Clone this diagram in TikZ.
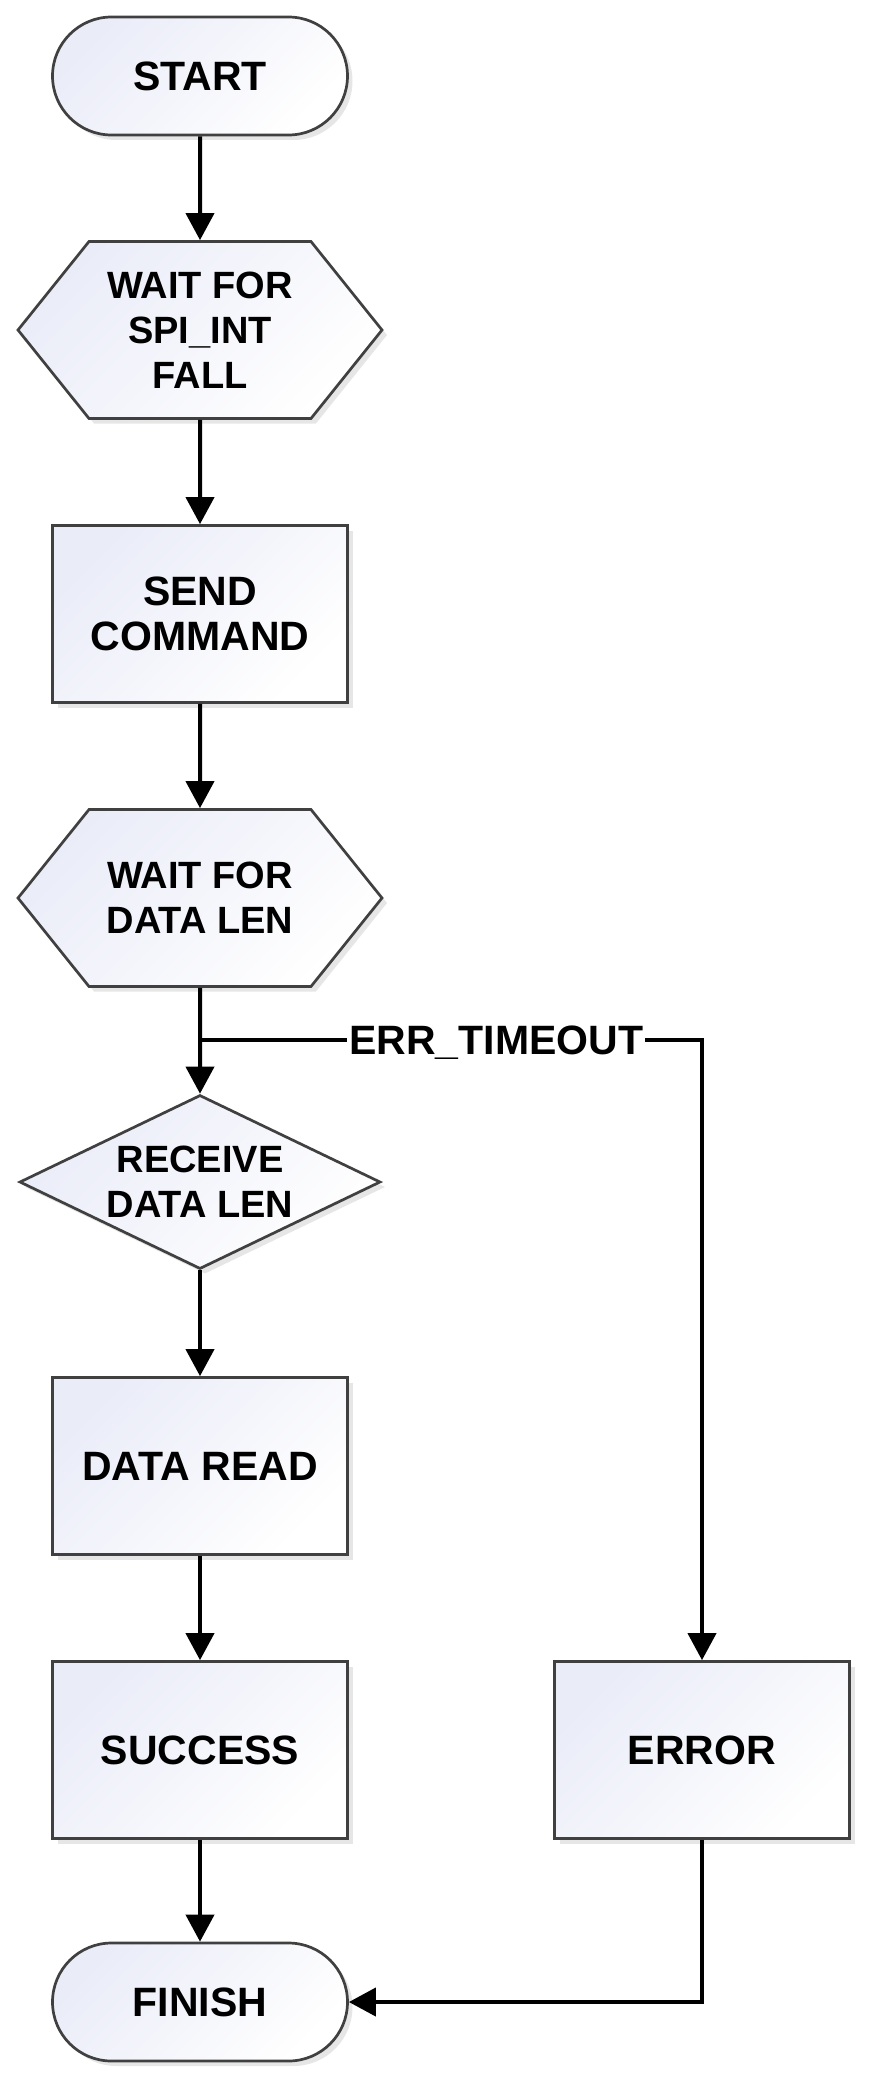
\documentclass[tikz,border=0pt]{standalone}
\usepackage{fontspec}
\setmainfont{Liberation Sans}
\usetikzlibrary{shapes.geometric,shapes.symbols,arrows.meta,shadows}
\definecolor{boxline}{RGB}{64,64,64}
\definecolor{boxtint}{RGB}{234,236,248}

\begin{document}
\begin{tikzpicture}[node distance=284pt,
	every node/.style={font=\fontsize{41}{45}\selectfont\bfseries,align=center},
	shadebox/.style={draw=boxline,line width=2.7pt,shading=axis,top color=boxtint,middle color=boxtint!30!white,bottom color=white,shading angle=45,drop shadow={shadow xshift=5pt,shadow yshift=-5pt,opacity=0.2}},
	terminal/.style={shadebox,rectangle,rounded corners=59pt,minimum width=295pt,minimum height=118pt},
	waitbox/.style={shadebox,signal,signal to=east and west,signal pointer angle=102.5,minimum width=364pt,minimum height=177pt,inner sep=0pt,font=\fontsize{38}{45}\selectfont\bfseries},
	procbox/.style={shadebox,rectangle,minimum width=295pt,minimum height=177pt},
	decision/.style={shadebox,diamond,aspect=2.07,minimum width=361pt,minimum height=174pt,inner sep=0pt,font=\fontsize{38}{45}\selectfont\bfseries},
	flow/.style={line width=4pt,-{Triangle[width=28pt,length=27pt]}}]
			\useasboundingbox (0,0) rectangle (879pt,-2095pt);
			\node (start) [terminal] at (200pt,-76pt) {START};
			\node (waitint) [below of=start,node distance=254pt,waitbox] {WAIT FOR\\SPI\_INT\\FALL};
			\node (sendcmd) [below of=waitint,procbox] {SEND\\COMMAND};
			\node (waitlen) [below of=sendcmd,waitbox] {WAIT FOR\\DATA LEN};
			\node (recvlen) [below of=waitlen,decision] {RECEIVE\\DATA LEN};
			\node (dataread) [below of=recvlen,procbox] {DATA READ};
			\node (success) [below of=dataread,procbox] {SUCCESS};
			\node (error) [right of=success,node distance=502pt,procbox] {ERROR};
			\node (finish) [below of=success,node distance=252pt,terminal] {FINISH};
			\coordinate (timeout) at ([yshift=-52pt]waitlen.south);
			\draw [flow] (start) -- (waitint);
			\draw [flow] (waitint) -- (sendcmd);
			\draw [flow] (sendcmd) -- (waitlen);
			\draw [flow] (waitlen) -- (recvlen);
			\draw [flow] (timeout) -- node [pos=0.59,fill=white,inner sep=2pt,text depth=0pt] {ERR\_TIMEOUT} (timeout -| error) -- (error);
			\draw [flow] (recvlen) -- (dataread);
			\draw [flow] (dataread) -- (success);
			\draw [flow] (success) -- (finish);
			\draw [flow] (error) |- (finish);
		\end{tikzpicture}
\end{document}
